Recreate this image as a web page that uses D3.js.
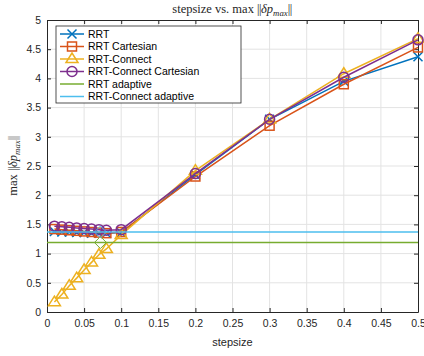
<!DOCTYPE html>
<html>
<head>
<meta charset="utf-8">
<script src="https://d3js.org/d3.v7.min.js"></script>
<style>
  body { margin: 0; background: #fff; }
  text { font-family: "Liberation Sans", Arial, sans-serif; }
  .tex { font-family: "Liberation Serif", "DejaVu Serif", serif; }
</style>
</head>
<body>
<svg width="424" height="356"></svg>
<script>
// values
const steps = [0.01, 0.02, 0.03, 0.04, 0.05, 0.06, 0.07, 0.08, 0.1, 0.2, 0.3, 0.4, 0.5];
const rrt        = [1.38, 1.37, 1.37, 1.36, 1.36, 1.35, 1.35, 1.35, 1.36, 2.35, 3.30, 3.95, 4.37];
const rrtCart    = [1.42, 1.41, 1.40, 1.39, 1.38, 1.37, 1.36, 1.35, 1.37, 2.32, 3.19, 3.90, 4.53];
const rrtCon     = [0.17, 0.30, 0.45, 0.58, 0.72, 0.85, 0.98, 1.08, 1.32, 2.42, 3.30, 4.08, 4.68];
const rrtConCart = [1.47, 1.46, 1.45, 1.44, 1.43, 1.42, 1.41, 1.40, 1.41, 2.37, 3.30, 4.02, 4.66];
const adaptStep = 0.072;
const rrtAdapt = 1.19;
const rrtConAdapt = 1.37;
const xTicks = [0, 0.05, 0.1, 0.15, 0.2, 0.25, 0.3, 0.35, 0.4, 0.45, 0.5];
const yTicks = [0, 0.5, 1, 1.5, 2, 2.5, 3, 3.5, 4, 4.5, 5];

const series = [
  {name: "RRT", vals: rrt, color: "#0072BD", marker: "x"},
  {name: "RRT Cartesian", vals: rrtCart, color: "#D95319", marker: "square"},
  {name: "RRT-Connect", vals: rrtCon, color: "#EDB120", marker: "tri"},
  {name: "RRT-Connect Cartesian", vals: rrtConCart, color: "#7E2F8E", marker: "circle"}
];
const adaptive = [
  {name: "RRT adaptive", val: rrtAdapt, color: "#77AC30"},
  {name: "RRT-Connect adaptive", val: rrtConAdapt, color: "#4DBEEE"}
];

const svg = d3.select("svg");
const L = 47, R = 418, T = 20, B = 312;
const x = d3.scaleLinear().domain([0, 0.5]).range([L, R]);
const y = d3.scaleLinear().domain([0, 5]).range([B, T]);

// grid
const grid = svg.append("g");
grid.selectAll(".gx").data(xTicks.slice(1, -1)).enter().append("line")
  .attr("x1", d => x(d)).attr("x2", d => x(d)).attr("y1", T).attr("y2", B)
  .attr("stroke", "#e3e3e3").attr("stroke-width", 1);
grid.selectAll(".gy").data(yTicks.slice(1, -1)).enter().append("line")
  .attr("y1", d => y(d)).attr("y2", d => y(d)).attr("x1", L).attr("x2", R)
  .attr("stroke", "#e3e3e3").attr("stroke-width", 1);

// axes
const xAx = svg.append("g").attr("transform", `translate(0,${B})`)
  .call(d3.axisBottom(x).tickValues(xTicks).tickSizeInner(-4).tickSizeOuter(0).tickPadding(8)
    .tickFormat(d => d3.format("")(+d.toFixed(2))));
const yAx = svg.append("g").attr("transform", `translate(${L},0)`)
  .call(d3.axisLeft(y).tickValues(yTicks).tickSizeInner(-4).tickSizeOuter(0).tickPadding(6)
    .tickFormat(d => String(d)));
const xTop = svg.append("g").attr("transform", `translate(0,${T})`)
  .call(d3.axisTop(x).tickValues(xTicks).tickSizeInner(-4).tickSizeOuter(0).tickFormat(""));
const yRight = svg.append("g").attr("transform", `translate(${R},0)`)
  .call(d3.axisRight(y).tickValues(yTicks).tickSizeInner(-4).tickSizeOuter(0).tickFormat(""));
[xAx, yAx, xTop, yRight].forEach(g => {
  g.select(".domain").attr("stroke", "#262626");
  g.selectAll(".tick line").attr("stroke", "#262626");
  g.selectAll(".tick text").attr("fill", "#262626").style("font-size", "10.5px")
    .style("font-family", "Liberation Sans, Arial, sans-serif");
});

// marker drawing
function drawMarker(g, type, cx, cy, color) {
  if (type === "x") {
    const s = 4.5;
    g.append("path").attr("d", `M${cx - s},${cy - s}L${cx + s},${cy + s}M${cx - s},${cy + s}L${cx + s},${cy - s}`)
      .attr("stroke", color).attr("stroke-width", 1.5).attr("fill", "none");
  } else if (type === "square") {
    g.append("rect").attr("x", cx - 4.5).attr("y", cy - 4.5).attr("width", 9).attr("height", 9)
      .attr("stroke", color).attr("stroke-width", 1.5).attr("fill", "none");
  } else if (type === "tri") {
    const s = 6;
    g.append("path").attr("d", `M${cx},${cy - s}L${cx + s},${cy + s * 0.6}L${cx - s},${cy + s * 0.6}Z`)
      .attr("stroke", color).attr("stroke-width", 1.5).attr("fill", "none");
  } else if (type === "circle") {
    g.append("circle").attr("cx", cx).attr("cy", cy).attr("r", 5)
      .attr("stroke", color).attr("stroke-width", 1.5).attr("fill", "none");
  } else if (type === "diamond") {
    const s = 6;
    g.append("path").attr("d", `M${cx},${cy - s}L${cx + s},${cy}L${cx},${cy + s}L${cx - s},${cy}Z`)
      .attr("stroke", color).attr("stroke-width", 1).attr("fill", "none");
  }
}

const line = d3.line().x(d => x(d[0])).y(d => y(d[1]));
const plot = svg.append("g");
series.forEach(s => {
  const pts = steps.map((st, i) => [st, s.vals[i]]);
  plot.append("path").datum(pts).attr("d", line)
    .attr("fill", "none").attr("stroke", s.color).attr("stroke-width", 1.5);
  pts.forEach(p => drawMarker(plot, s.marker, x(p[0]), y(p[1]), s.color));
});
adaptive.forEach(a => {
  plot.append("line").attr("x1", x(0)).attr("x2", x(0.5)).attr("y1", y(a.val)).attr("y2", y(a.val))
    .attr("stroke", a.color).attr("stroke-width", 1.5);
  drawMarker(plot, "diamond", x(adaptStep), y(a.val), a.color);
});

// legend
const lg = svg.append("g");
const lx = 56, ly = 26, lw = 185, lh = 77, rowH = 12.5;
lg.append("rect").attr("x", lx).attr("y", ly).attr("width", lw).attr("height", lh)
  .attr("fill", "#fff").attr("stroke", "#262626").attr("stroke-width", 0.8);
const legendItems = series.map(s => ({name: s.name, color: s.color, marker: s.marker}))
  .concat(adaptive.map(a => ({name: a.name, color: a.color, marker: null})));
legendItems.forEach((it, i) => {
  const cy = ly + 8 + i * rowH;
  lg.append("line").attr("x1", lx + 4).attr("x2", lx + 28).attr("y1", cy).attr("y2", cy)
    .attr("stroke", it.color).attr("stroke-width", 1.5);
  if (it.marker) drawMarker(lg, it.marker, lx + 16, cy, it.color);
  lg.append("text").attr("x", lx + 32).attr("y", cy + 3.8).text(it.name)
    .style("font-size", "10.5px").attr("fill", "#000");
});

// title and y label share the same math text
function normText(t, size) {
  t.append("tspan").text("max ");
  t.append("tspan").style("letter-spacing", "-0.5px").text("||");
  t.append("tspan").style("font-style", "italic").text("δp");
  t.append("tspan").style("font-style", "italic").style("font-size", (size * 0.7) + "px").attr("dy", 3).text("max");
  t.append("tspan").attr("dy", -3).style("letter-spacing", "-0.5px").text("||");
}
const title = svg.append("text").attr("class", "tex").attr("x", 232).attr("y", 13)
  .attr("text-anchor", "middle").style("font-size", "12.5px").attr("fill", "#262626");
title.append("tspan").text("stepsize vs. ");
normText(title, 12.5);

// axis labels
svg.append("text").attr("x", x(0.25)).attr("y", 346).attr("text-anchor", "middle")
  .style("font-size", "11px").attr("fill", "#262626").text("stepsize");
const yl = svg.append("text").attr("class", "tex")
  .attr("transform", `translate(17,${(T + B) / 2}) rotate(-90)`)
  .attr("text-anchor", "middle").style("font-size", "12.5px").attr("fill", "#262626");
normText(yl, 12.5);
</script>
</body>
</html>
